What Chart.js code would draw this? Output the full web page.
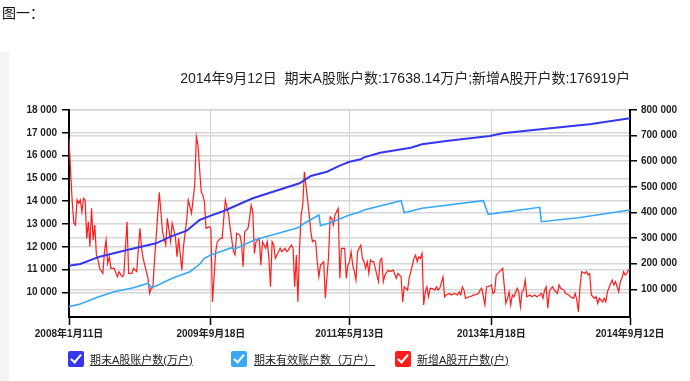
<!DOCTYPE html>
<html><head><meta charset="utf-8">
<script src="https://cdn.jsdelivr.net/npm/chart.js@4.4.1/dist/chart.umd.min.js"></script>
<style>
html,body{margin:0;padding:0;background:#fff;width:690px;height:381px;overflow:hidden;}
#wrap{position:relative;width:690px;height:381px;}
#cv{position:absolute;left:0;top:0;}
#fig{position:absolute;left:2px;top:2px;font:14px "Noto Sans CJK SC",sans-serif;color:#111;line-height:20px;}
#strip{position:absolute;left:0;top:52px;width:9px;height:329px;background:#f4f4f4;}
#legend{position:absolute;left:0;top:351px;width:690px;height:20px;}
.item{position:absolute;top:0;height:18px;}
.box{position:absolute;left:0;top:0;width:16px;height:16px;border-radius:2px;}
.box:after{content:"";position:absolute;left:5px;top:1px;width:4px;height:9px;border:solid #fff;border-width:0 2.5px 2.5px 0;transform:rotate(40deg);}
.txt{position:absolute;top:2px;white-space:nowrap;font:11px "Liberation Sans","Noto Sans CJK SC",sans-serif;color:#222;text-decoration:underline;line-height:14px;}
</style></head><body>
<div id="wrap">
<div id="strip"></div>
<canvas id="cv" width="690" height="381"></canvas>
<div id="fig">图一：</div>
<div id="legend"></div>
</div>
<script>
const titleText = '2014年9月12日  期末A股账户数:17638.14万户;新增A股开户数:176919户';
const seriesNames = ['期末A股账户数(万户)', '期末有效账户数（万户）', '新增A股开户数(户)'];
const xTickWeeks = [0, 88, 174, 262, 348];
const xTickLabels = ['2008年1月11日', '2009年9月18日', '2011年5月13日', '2013年1月18日', '2014年9月12日'];
const leftTicks = [10000, 11000, 12000, 13000, 14000, 15000, 16000, 17000, 18000];
const rightTicks = [100000, 200000, 300000, 400000, 500000, 600000, 700000, 800000];

// 期末A股账户数 (万户), week index from 2008-01-11
const totalWeeks = [0, 7, 19, 36, 54, 63, 73, 81, 88, 96, 114, 143, 150, 160, 168, 174, 181, 183, 193, 212, 219, 234, 261, 269, 294, 323, 348];
const totalAccounts = [11171, 11246, 11566, 11860, 12153, 12443, 12706, 13175, 13364, 13570, 14127, 14785, 15105, 15294, 15557, 15732, 15838, 15925, 16127, 16346, 16496, 16640, 16860, 16978, 17167, 17373, 17638.14];

// 期末有效账户数 (万户)
const validWeeks = [0, 7, 18, 28, 40, 49, 51, 54, 64, 75, 81, 84, 88, 101, 103, 115, 126, 142, 146, 155, 156, 163, 169, 174, 180, 183, 206, 208, 219, 257, 260, 292, 293, 316, 348];
const validAccounts = [9373, 9491, 9798, 10026, 10206, 10399, 10224, 10281, 10618, 10908, 11232, 11495, 11640, 11960, 11903, 12298, 12518, 12838, 13031, 13395, 12925, 13075, 13250, 13395, 13513, 13614, 14022, 13496, 13689, 14022, 13425, 13732, 13101, 13276, 13614];

// 新增A股开户数 (户)
const newWeeks = [0,1,2,3,4,5,6,7,8,9,10,11,12,13,14,15,16,17,18,19,21,22,23,24,25,26,28,30,31,33,34,36,37,39,40,42,44,45,46,48,49,50,51,52,53,56,57,58,60,61,63,64,66,67,68,70,71,73,74,76,78,79,80,82,83,84,85,87,88,89,91,92,94,95,96,97,99,100,102,103,104,106,107,108,109,111,112,113,114,115,116,117,118,119,120,122,123,124,125,126,127,128,129,131,132,134,135,136,138,139,140,141,142,143,144,145,146,148,149,150,151,152,153,154,155,156,157,158,159,161,162,163,164,165,166,167,168,169,171,172,173,174,175,176,177,178,179,181,182,183,184,185,186,187,188,189,190,192,193,194,195,196,198,199,201,202,203,204,206,207,208,210,211,213,214,215,216,217,218,219,220,221,222,223,224,225,227,228,229,230,232,233,234,236,237,239,241,242,243,244,245,246,248,249,251,252,254,255,256,258,259,260,262,263,264,265,266,267,268,269,271,272,273,274,275,276,278,279,280,281,282,283,284,286,287,289,290,292,293,294,295,296,297,298,299,300,301,303,304,305,307,308,310,311,313,314,315,316,317,318,320,321,322,323,324,325,326,327,328,329,331,332,333,334,336,337,338,339,340,341,342,343,344,345,346,347,348];
const newAccounts = [689000,559000,442000,358000,351000,449000,436000,449000,403000,455000,449000,299000,364000,266000,416000,292000,351000,234000,214000,182000,162000,247000,292000,201000,227000,182000,182000,149000,169000,149000,156000,364000,162000,162000,182000,169000,338000,260000,221000,169000,143000,84000,104000,106000,208000,479000,403000,325000,273000,377000,286000,358000,305000,227000,299000,175000,266000,370000,449000,397000,507000,696000,663000,481000,468000,442000,338000,344000,338000,51000,247000,286000,299000,299000,377000,449000,390000,338000,247000,234000,319000,312000,279000,188000,325000,338000,377000,429000,403000,240000,286000,292000,299000,195000,286000,260000,286000,221000,110000,286000,273000,221000,234000,260000,247000,260000,247000,253000,273000,260000,110000,234000,51000,260000,390000,429000,559000,449000,390000,325000,286000,292000,286000,208000,149000,195000,201000,208000,65000,227000,383000,377000,351000,390000,403000,416000,143000,260000,260000,143000,195000,208000,247000,195000,169000,136000,247000,273000,221000,208000,182000,208000,162000,214000,208000,208000,182000,130000,214000,221000,130000,156000,175000,169000,175000,162000,143000,162000,149000,51000,110000,97000,143000,195000,221000,234000,208000,227000,221000,240000,39000,90000,110000,71000,104000,104000,97000,110000,97000,104000,149000,71000,78000,84000,78000,84000,78000,90000,78000,110000,97000,65000,71000,71000,78000,78000,84000,97000,104000,39000,110000,110000,117000,84000,90000,156000,162000,169000,175000,182000,45000,65000,90000,39000,78000,71000,104000,90000,32000,90000,97000,136000,71000,78000,71000,78000,71000,78000,84000,65000,97000,110000,26000,90000,104000,110000,97000,84000,117000,104000,97000,84000,78000,71000,65000,84000,58000,12000,110000,169000,162000,169000,156000,162000,78000,71000,65000,71000,45000,65000,51000,65000,51000,90000,123000,136000,117000,130000,110000,90000,130000,143000,169000,156000,162000,175000,176919];

const seriesColors = ['#3636ee', '#38a8f6', '#ff1c1c'];

Chart.defaults.font.family = '"Liberation Sans", "Noto Sans CJK SC", sans-serif';

function spaced(v) { return String(v).replace(/\B(?=(\d{3})+(?!\d))/g, ' '); }
function pts(ws, vs) { return ws.map((w, i) => ({ x: w, y: vs[i] })); }

const tickFont = { size: 10, weight: 'bold' };
const chart = new Chart(document.getElementById('cv'), {
  type: 'line',
  data: {
    datasets: [
      { label: seriesNames[0], data: pts(totalWeeks, totalAccounts), borderColor: seriesColors[0], backgroundColor: seriesColors[0], borderWidth: 2, yAxisID: 'y', pointRadius: 0, tension: 0 },
      { label: seriesNames[1], data: pts(validWeeks, validAccounts), borderColor: seriesColors[1], backgroundColor: seriesColors[1], borderWidth: 1.6, yAxisID: 'y', pointRadius: 0, tension: 0 },
      { label: seriesNames[2], data: pts(newWeeks, newAccounts), borderColor: seriesColors[2], backgroundColor: seriesColors[2], borderWidth: 1.2, yAxisID: 'y1', pointRadius: 0, tension: 0 }
    ]
  },
  options: {
    responsive: false, animation: false, devicePixelRatio: 1,
    layout: { padding: { top: 71, left: 0, right: 0, bottom: 0 } },
    plugins: {
      legend: { display: false },
      tooltip: { enabled: false },
      title: { display: true, text: titleText, fullSize: false, align: 'end', color: '#222',
        font: { size: 14, weight: 'normal' }, padding: { top: 0, bottom: 22.2 } }
    },
    scales: {
      x: {
        type: 'linear', min: 0, max: 348,
        afterBuildTicks: s => { s.ticks = xTickWeeks.map(v => ({ value: v })); },
        afterFit: s => { s.height = 64; },
        ticks: { callback: (v, i) => xTickLabels[i], maxRotation: 0, autoSkip: false, padding: 3, color: '#222', font: tickFont },
        grid: { color: '#d4d4d4', lineWidth: 1, tickLength: 8, tickColor: '#000', tickWidth: 1.5 },
        border: { color: '#000', width: 2 }
      },
      y: {
        position: 'left', min: 8920, max: 18000,
        afterBuildTicks: s => { s.ticks = leftTicks.map(v => ({ value: v })); },
        afterFit: s => { s.width = 69; },
        ticks: { callback: v => spaced(v), padding: 5, color: '#222', font: tickFont },
        grid: { color: '#d6d6d6', lineWidth: 1.5, tickLength: 7, tickColor: '#000', tickWidth: 1.5 },
        border: { color: '#000', width: 2 }
      },
      y1: {
        position: 'right', min: -8000, max: 800000,
        afterBuildTicks: s => { s.ticks = rightTicks.map(v => ({ value: v })); },
        afterFit: s => { s.width = 60; },
        ticks: { callback: v => spaced(v), padding: 4, color: '#222', font: tickFont },
        grid: { color: '#d6d6d6', lineWidth: 1.5, tickLength: 7, tickColor: '#000', tickWidth: 1.5 },
        border: { color: '#000', width: 2 }
      }
    }
  }
});

// HTML legend built from the chart's datasets
const legendBoxX = [68, 231, 395];
const legendTextX = [90, 254, 417];
const lg = document.getElementById('legend');
chart.data.datasets.forEach((ds, i) => {
  const it = document.createElement('div');
  it.className = 'item';
  it.style.left = legendBoxX[i] + 'px';
  const b = document.createElement('div');
  b.className = 'box';
  b.style.background = ds.borderColor;
  const t = document.createElement('div');
  t.className = 'txt';
  t.style.left = (legendTextX[i] - legendBoxX[i]) + 'px';
  t.textContent = ds.label;
  it.appendChild(b); it.appendChild(t);
  lg.appendChild(it);
});
</script>
</body></html>
